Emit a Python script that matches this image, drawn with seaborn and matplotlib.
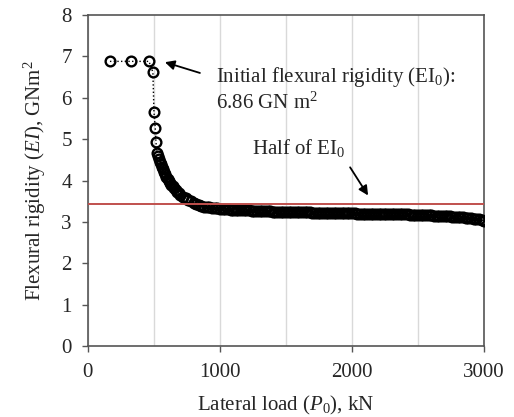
import numpy as np
import pandas as pd
import seaborn as sns
from matplotlib import pyplot as plt
from matplotlib.ticker import MultipleLocator

sns.set_style("ticks")
plt.rcParams['font.family'] = ['Liberation Serif', 'DejaVu Serif']
plt.rcParams['mathtext.fontset'] = 'custom'
plt.rcParams['mathtext.rm'] = 'Liberation Serif'
plt.rcParams['mathtext.it'] = 'Liberation Serif:italic'

# lateral load (kN) and flexural rigidity (GNm2)
load = [167, 330, 462, 492, 500, 510, 515,
        523, 530, 537, 545, 552, 560, 568, 576, 585, 594,
        603, 612, 622, 632, 642, 653, 664, 676, 688, 700,
        720, 740, 760, 780, 800, 820, 840, 860, 880, 900,
        920, 940, 960, 980, 1000,
        1020, 1040, 1060, 1080, 1100, 1120, 1140, 1160, 1180, 1200,
        1220, 1240, 1260, 1280, 1300, 1320, 1340, 1360, 1380, 1400,
        1420, 1440, 1460, 1480, 1500, 1520, 1540, 1560, 1580, 1600,
        1620, 1640, 1660, 1680, 1700, 1720, 1740, 1760, 1780, 1800,
        1820, 1840, 1860, 1880, 1900, 1920, 1940, 1960, 1980, 2000,
        2020, 2040, 2060, 2080, 2100, 2120, 2140, 2160, 2180, 2200,
        2220, 2240, 2260, 2280, 2300, 2320, 2340, 2360, 2380, 2400,
        2420, 2440, 2460, 2480, 2500, 2520, 2540, 2560, 2580, 2600,
        2620, 2640, 2660, 2680, 2700, 2720, 2740, 2760, 2780, 2800,
        2820, 2840, 2860, 2880, 2900, 2920, 2940, 2960, 2980, 3000]
ei = [6.88, 6.88, 6.88, 6.62, 5.66, 5.27, 4.94,
      4.67, 4.59, 4.52, 4.45, 4.39, 4.33, 4.27, 4.21, 4.15, 4.09,
      4.04, 3.99, 3.94, 3.90, 3.86, 3.81, 3.77, 3.73, 3.69, 3.66,
      3.61, 3.57, 3.53, 3.50, 3.46, 3.44, 3.41, 3.39, 3.37, 3.36,
      3.35, 3.34, 3.33, 3.33, 3.32,
      3.31, 3.31, 3.31, 3.30, 3.30, 3.30, 3.29, 3.29, 3.28, 3.28,
      3.28, 3.27, 3.27, 3.27, 3.27, 3.26, 3.26, 3.26, 3.26, 3.25,
      3.25, 3.25, 3.25, 3.24, 3.24, 3.24, 3.24, 3.24, 3.23, 3.23,
      3.23, 3.23, 3.23, 3.23, 3.22, 3.22, 3.22, 3.22, 3.22, 3.22,
      3.22, 3.22, 3.21, 3.21, 3.21, 3.21, 3.21, 3.21, 3.21, 3.21,
      3.21, 3.20, 3.20, 3.20, 3.20, 3.20, 3.20, 3.20, 3.19, 3.19,
      3.19, 3.19, 3.19, 3.19, 3.19, 3.18, 3.18, 3.18, 3.18, 3.18,
      3.18, 3.17, 3.17, 3.17, 3.17, 3.17, 3.16, 3.16, 3.16, 3.16,
      3.15, 3.15, 3.15, 3.15, 3.14, 3.14, 3.14, 3.13, 3.13, 3.12,
      3.12, 3.11, 3.10, 3.10, 3.09, 3.08, 3.07, 3.06, 3.05, 3.03]
ei0 = 6.86
half_ei0 = ei0 / 2

df = pd.DataFrame({'load': load, 'ei': ei})

fs = 15
fig = plt.figure(figsize=(5.14, 4.17), dpi=100)
ax = fig.add_axes([0.171, 0.170, 0.771, 0.794])

sns.lineplot(data=df, x='load', y='ei', ax=ax, sort=False, estimator=None,
             color='black', linestyle=':', linewidth=1.0,
             marker='o', markersize=7, markerfacecolor='none',
             markeredgecolor='black', markeredgewidth=1.7, zorder=3)

ax.axhline(half_ei0, color='#c0504d', linewidth=1.4, zorder=4)

ax.set_xlim(0, 3000)
ax.set_ylim(0, 8)
ax.xaxis.set_major_locator(MultipleLocator(1000))
ax.xaxis.set_minor_locator(MultipleLocator(500))
ax.yaxis.set_major_locator(MultipleLocator(1))
ax.grid(axis='x', which='both', color='#d9d9d9', linewidth=1.0, zorder=0)
ax.tick_params(axis='both', which='major', direction='out', length=4.5,
               width=1.0, color='#555555', labelsize=fs)
ax.tick_params(axis='y', pad=7)
ax.tick_params(axis='x', pad=8)
ax.tick_params(axis='x', which='minor', length=0)
for s in ax.spines.values():
    s.set_visible(True)
    s.set_color('#555555')
    s.set_linewidth(1.2)

ax.set_xlabel(r'Lateral load ($\mathit{P}_0$), kN', fontsize=fs, labelpad=8)
ax.set_ylabel(r'Flexural rigidity ($\mathit{EI}$), GNm$^2$', fontsize=fs, labelpad=10)

arrow = dict(arrowstyle='-|>', color='black', lw=1.3,
             mutation_scale=14, shrinkA=0, shrinkB=0)
ax.annotate('', xy=(583, 6.86), xytext=(848, 6.6), arrowprops=arrow)
ax.text(970, 6.5, 'Initial flexural rigidity (EI$_0$):', fontsize=fs,
        ha='left', va='center')
ax.text(970, 5.87, '6.86 GN m$^2$', fontsize=fs, ha='left', va='center')
ax.annotate('', xy=(2121, 3.64), xytext=(1985, 4.32), arrowprops=arrow)
ax.text(1242, 4.78, 'Half of EI$_0$', fontsize=fs, ha='left', va='center')

fig.savefig('out.png', dpi=100)
